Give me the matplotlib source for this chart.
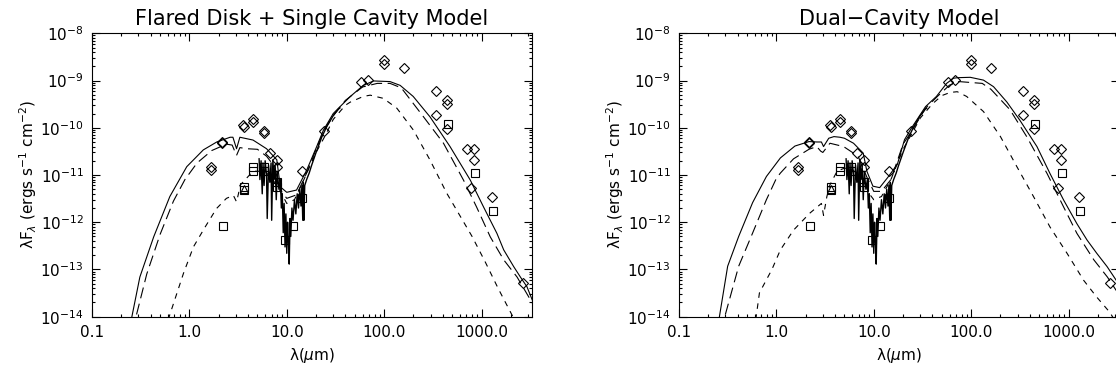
import numpy as np
import matplotlib
matplotlib.use('Agg')
import matplotlib.pyplot as plt
from matplotlib.ticker import LogLocator, NullFormatter

# photometry, same in both panels (wavelength in micron, lambda*F_lambda in erg/s/cm2)
dia_lam = [1.65, 1.65, 2.15, 2.15, 3.55, 3.6, 4.5, 4.5, 5.8, 5.8, 6.8, 8.0, 8.0, 14.2, 24.0,
           58.5, 69.0, 100.0, 100.0, 160.0, 340.0, 440.0, 440.0, 340.0, 440.0, 713.0, 843.0,
           843.0, 782.0, 1290.0, 2640.0]
dia_flux = [1.5e-11, 1.3e-11, 5.1e-11, 4.8e-11, 1.15e-10, 1.05e-10, 1.5e-10, 1.35e-10, 8.5e-11,
            7.8e-11, 2.9e-11, 2.1e-11, 1.5e-11, 1.2e-11, 8.7e-11, 9.5e-10, 1.02e-9, 2.7e-9, 2.2e-9,
            1.8e-9, 5.9e-10, 3.9e-10, 3.2e-10, 1.9e-10, 9.3e-11, 3.5e-11, 3.5e-11, 2.1e-11,
            5.4e-12, 3.5e-12, 5.2e-14]
sq_lam = [2.2, 3.6, 3.6, 4.5, 4.5, 5.8, 5.8, 7.9, 7.9, 9.5, 11.7, 14.5, 450.0, 850.0, 1300.0]
sq_flux = [8.3e-13, 5.6e-12, 4.9e-12, 1.5e-11, 1.2e-11, 1.5e-11, 1.2e-11, 7.0e-12, 5.5e-12,
           4.3e-13, 8.2e-13, 3.2e-12, 1.2e-10, 1.1e-11, 1.7e-12]
tri_lam = [3.6]
tri_flux = [5.0e-12]

# IRS spectrum
irs_lam = [5.2, 5.3, 5.45, 5.6, 5.7, 5.85, 6.0, 6.2, 6.3, 6.5, 6.7, 6.9, 7.0, 7.2, 7.4, 7.6, 7.8,
           8.0, 8.3, 8.6, 8.8, 9.0, 9.2, 9.4, 9.6, 9.8, 10.0, 10.2, 10.4, 10.6, 10.8, 11.0, 11.3,
           11.6, 12.0, 12.4, 12.8, 13.2, 13.6, 14.0, 14.3, 14.6, 14.8, 15.0, 15.3, 16.0, 17.0,
           18.0, 20.0, 23.0, 26.0, 30.0, 34.0, 35.0]
irs_flux = [2.2e-11, 8e-12, 2.0e-11, 4e-12, 1.8e-11, 6e-12, 2.0e-11, 1.0e-11, 1.2e-12, 1.6e-11,
            7e-12, 1.8e-11, 1.1e-12, 2.1e-11, 8e-12, 1.6e-11, 3e-12, 1.2e-11, 5e-12, 8e-12, 2e-12,
            4e-12, 6e-13, 2.5e-12, 3e-13, 1.5e-12, 2.2e-13, 1e-12, 4e-13, 1.3e-13, 1.2e-12, 5e-13,
            2e-12, 1.1e-12, 3e-12, 1.5e-12, 4e-12, 2e-12, 5e-12, 2.2e-12, 6e-12, 1.1e-12, 7e-12,
            1.1e-12, 6e-12, 8e-12, 1.1e-11, 1.6e-11, 3e-11, 6.5e-11, 1.1e-10, 1.8e-10, 2.5e-10,
            2.6e-10]

# flared disk + single cavity model
a_tot_lam = [0.24, 0.31, 0.43, 0.63, 0.94, 1.39, 1.91, 2.62, 2.8, 3.05, 3.3, 4.5, 6.2, 7.9, 8.6,
             10.0, 12.6, 16.0, 20.3, 23.8, 30.0, 34.0, 45.0, 61.0, 78.0, 115.0, 146.0, 199.0,
             296.0, 475.0, 767.0, 1050.0, 1440.0, 1690.0, 2140.0, 2510.0, 2930.0, 3400.0]
a_tot_flux = [5e-15, 6.9e-14, 4.9e-13, 3.5e-12, 1.5e-11, 3.4e-11, 5.0e-11, 6.3e-11, 6.3e-11,
              3.6e-11, 6.3e-11, 5.5e-11, 3.6e-11, 2.1e-11, 5.6e-12, 4.3e-12, 4.8e-12, 1.26e-11,
              4e-11, 8.9e-11, 2e-10, 2.6e-10, 4.6e-10, 7.9e-10, 9.8e-10, 9.5e-10, 7.9e-10,
              4.6e-10, 1.7e-10, 4e-11, 7.8e-12, 2.1e-12, 5.8e-13, 2.6e-13, 1.15e-13, 6.9e-14,
              4.3e-14, 2.0e-14]
a_ld_lam = [0.27, 0.283, 0.365, 0.5, 0.686, 0.9, 1.2, 1.7, 2.4, 2.75, 3.05, 3.3, 3.9, 5.0, 6.2,
            7.5, 8.5, 10.0, 12.6, 16.0, 20.0, 24.0, 30.0, 40.0, 60.0, 85.0, 115.0, 150.0, 254.0,
            407.0, 653.0, 890.0, 1230.0, 1690.0, 2320.0, 3400.0]
a_ld_flux = [5e-15, 1e-14, 8e-14, 5.5e-13, 2.8e-12, 8e-12, 1.8e-11, 3.3e-11, 4.5e-11, 4.3e-11,
             2.6e-11, 3.8e-11, 3.6e-11, 3.5e-11, 2.5e-11, 1.5e-11, 5e-12, 3.2e-12, 3.8e-12,
             1.1e-11, 3.5e-11, 8.5e-11, 1.8e-10, 3.8e-10, 7.3e-10, 8.7e-10, 8.7e-10, 7e-10,
             1.7e-10, 4.7e-11, 7.8e-12, 2.1e-12, 4.9e-13, 1.6e-13, 6.9e-14, 1.8e-14]
a_sd_lam = [0.6, 0.62, 0.87, 1.1, 1.45, 1.9, 2.4, 2.83, 3.05, 3.2, 3.3, 4.5, 6.0, 8.0, 10.0, 12.0,
            15.0, 20.0, 25.0, 30.0, 40.0, 45.0, 61.0, 72.0, 98.0, 135.0, 200.0, 295.0, 440.0,
            575.0, 800.0, 1100.0, 1480.0, 2100.0, 2400.0]
a_sd_flux = [5e-15, 1e-14, 8.3e-14, 3e-13, 7.9e-13, 1.95e-12, 3.2e-12, 3.7e-12, 2.7e-12, 4.1e-12,
             6e-12, 1.2e-11, 1.2e-11, 6e-12, 2.5e-12, 3e-12, 8e-12, 3e-11, 7e-11, 1.5e-10, 3e-10,
             3.5e-10, 4.6e-10, 4.9e-10, 4.2e-10, 2.6e-10, 8.9e-11, 2.1e-11, 4.1e-12, 1.6e-12,
             5e-13, 1.4e-13, 4e-14, 1e-14, 6e-15]

# dual-cavity model
b_tot_lam = [0.255, 0.26, 0.316, 0.41, 0.57, 0.79, 1.1, 1.55, 2.16, 2.6, 2.9, 3.05, 3.45, 3.9,
             4.5, 5.0, 6.2, 7.8, 8.5, 9.8, 11.5, 14.0, 17.5, 20.7, 24.5, 34.0, 44.0, 56.0, 66.0,
             73.0, 98.0, 134.0, 170.0, 233.0, 316.0, 474.0, 646.0, 891.0, 1220.0, 1550.0,
             1950.0, 2490.0, 3090.0, 3400.0]
b_tot_flux = [5e-15, 1e-14, 1.17e-13, 5e-13, 2.6e-12, 9.3e-12, 2.3e-11, 4.1e-11, 5.1e-11, 5e-11,
              5e-11, 4e-11, 6e-11, 6.5e-11, 6.3e-11, 6e-11, 4.7e-11, 2.9e-11, 1.2e-11, 5.8e-12,
              5.4e-12, 9e-12, 1.7e-11, 5.6e-11, 1e-10, 2.8e-10, 4.6e-10, 8.7e-10, 1.12e-9,
              1.15e-9, 1.17e-9, 1.02e-9, 7.4e-10, 3.5e-10, 1.45e-10, 4e-11, 1.07e-11, 2.95e-12,
              9.3e-13, 4.2e-13, 2.2e-13, 1.15e-13, 5.9e-14, 4.5e-14]
b_ld_lam = [0.285, 0.295, 0.41, 0.57, 0.79, 1.0, 1.1, 1.5, 2.16, 2.6, 2.85, 3.0, 3.55, 4.9, 6.9,
            8.5, 10.0, 12.0, 15.0, 20.0, 25.0, 34.0, 45.0, 60.0, 75.0, 130.0, 160.0, 251.0,
            372.0, 603.0, 891.0, 1220.0, 1820.0, 2510.0, 3090.0, 3400.0]
b_ld_flux = [5e-15, 1e-14, 1.17e-13, 5.9e-13, 3e-12, 8.5e-12, 1.1e-11, 2.2e-11, 3.5e-11, 4e-11,
             3.2e-11, 3e-11, 4.7e-11, 4e-11, 2.5e-11, 9e-12, 4.5e-12, 4.5e-12, 8e-12, 4.5e-11,
             9e-11, 2.6e-10, 4.6e-10, 8e-10, 9.5e-10, 8.7e-10, 6.5e-10, 2.4e-10, 6.5e-11,
             1.07e-11, 2.1e-12, 5.8e-13, 1.6e-13, 6.9e-14, 3.6e-14, 2.8e-14]
b_sd_lam = [0.6, 0.62, 0.67, 0.9, 1.1, 1.5, 2.2, 2.9, 3.05, 3.3, 3.55, 4.2, 5.0, 6.0, 7.5, 9.0,
            10.0, 12.0, 15.0, 20.0, 25.0, 30.0, 40.0, 50.0, 61.0, 72.0, 90.0, 134.0, 200.0,
            295.0, 437.0, 646.0, 966.0, 1430.0, 1950.0, 2690.0, 3000.0]
b_sd_flux = [5e-15, 1e-14, 3.2e-14, 1e-13, 2.6e-13, 6.8e-13, 1.55e-12, 2.5e-12, 1.4e-12, 3.5e-12,
             6.2e-12, 1.2e-11, 1.4e-11, 1.3e-11, 9e-12, 4e-12, 3e-12, 3.5e-12, 8e-12, 3.5e-11,
             8e-11, 1.6e-10, 3.2e-10, 4.8e-10, 5.6e-10, 5.8e-10, 4.6e-10, 2.2e-10, 6.5e-11,
             1.5e-11, 3.5e-12, 7.9e-13, 2.2e-13, 5.9e-14, 2.6e-14, 1.2e-14, 8e-15]

titles = ['Flared Disk + Single Cavity Model', 'Dual\u2212Cavity Model']
models = [(a_tot_lam, a_tot_flux, a_ld_lam, a_ld_flux, a_sd_lam, a_sd_flux),
          (b_tot_lam, b_tot_flux, b_ld_lam, b_ld_flux, b_sd_lam, b_sd_flux)]
xticks = [0.1, 1.0, 10.0, 100.0, 1000.0]
xticklabels = ['0.1', '1.0', '10.0', '100.0', '1000.0']

plt.rcParams['font.family'] = 'DejaVu Sans'
plt.rcParams['lines.scale_dashes'] = False

fig = plt.figure(figsize=(11.16, 3.75), dpi=100)
lefts = [92 / 1116, 679 / 1116]

for i in range(2):
    ax = fig.add_axes([lefts[i], 58.3 / 375, 440 / 1116, 283.4 / 375])
    tl, tf, ll, lf, sl, sf = models[i]
    ax.plot(tl, tf, color='black', lw=0.8)
    ax.plot(ll, lf, color='black', lw=0.8, dashes=(8, 4))
    ax.plot(sl, sf, color='black', lw=0.8, dashes=(4, 4))
    ax.plot(irs_lam, irs_flux, color='black', lw=1.0)
    ax.plot(dia_lam, dia_flux, 'D', ms=4.8, mfc='none', mec='black', mew=0.8)
    ax.plot(sq_lam, sq_flux, 's', ms=6.3, mfc='none', mec='black', mew=0.8)
    ax.plot(tri_lam, tri_flux, '^', ms=5.5, mfc='none', mec='black', mew=0.8)

    ax.set_xscale('log')
    ax.set_yscale('log')
    ax.set_xlim(0.1, 3300)
    ax.set_ylim(1e-14, 1e-8)
    ax.set_xticks(xticks)
    ax.set_xticklabels(xticklabels)
    ax.xaxis.set_minor_locator(LogLocator(base=10, subs=np.arange(2, 10), numticks=20))
    ax.xaxis.set_minor_formatter(NullFormatter())
    ax.yaxis.set_major_locator(LogLocator(base=10, numticks=10))
    ax.yaxis.set_minor_locator(LogLocator(base=10, subs=np.arange(2, 10), numticks=20))
    ax.yaxis.set_minor_formatter(NullFormatter())
    ax.tick_params(which='both', direction='in', top=True, right=True, labelsize=11, width=0.8)
    ax.tick_params(which='major', length=6, pad=6)
    ax.tick_params(which='minor', length=2.5)
    for s in ax.spines.values():
        s.set_linewidth(0.8)

    ax.set_title(titles[i], fontsize=15, pad=6)
    ax.set_xlabel(r'λ($\mu$m)', fontsize=11)
    ax.set_ylabel(r'λF$_λ$ (ergs s$^{-1}$ cm$^{-2}$)', fontsize=11)
    ax.xaxis.set_label_coords(0.5, -0.105)
    ax.yaxis.set_label_coords(-0.12, 0.5)

plt.savefig('out.png', dpi=100)
